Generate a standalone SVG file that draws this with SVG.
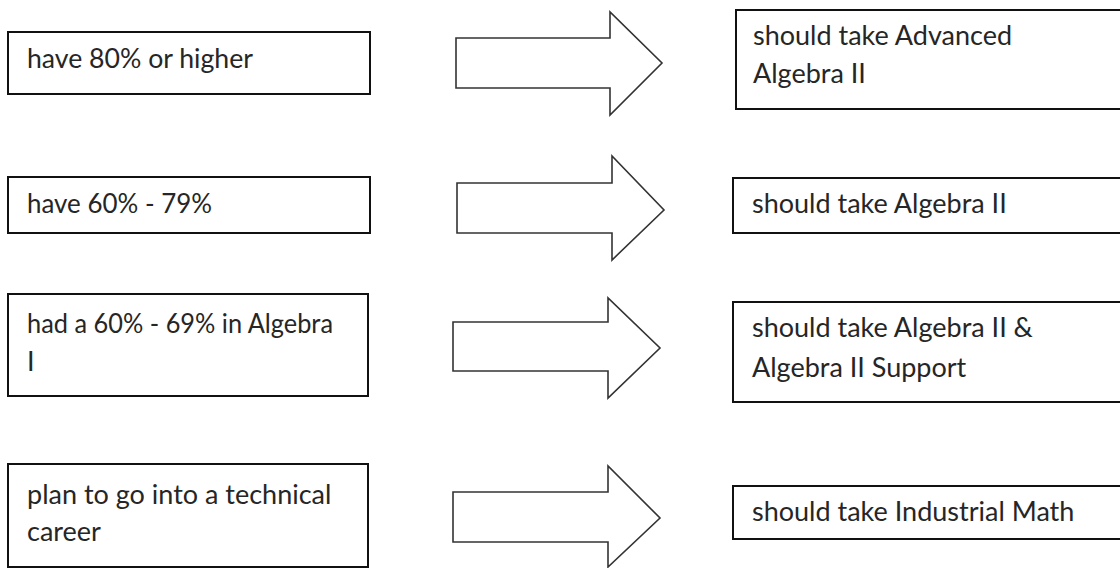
<svg xmlns="http://www.w3.org/2000/svg" width="1120" height="568" viewBox="0 0 1120 568">
<style>
.box{fill:#fff;stroke:#111;stroke-width:2}
.arr{fill:#fff;stroke:#333;stroke-width:1.6;stroke-linejoin:miter}
.t{font-family:Lato,"Liberation Sans",sans-serif;font-size:27px;fill:#262626}
</style>
<rect width="1120" height="568" fill="#fff"/>
<g id="connectors">
<polygon class="arr" points="456,38 610,38 610,12 662,63 610,115 610,88 456,88"/>
<polygon class="arr" points="457,183 612,183 612,156 664,210 612,260 612,233 457,233"/>
<polygon class="arr" points="453,322 608,322 608,298 660,348 608,398 608,371 453,371"/>
<polygon class="arr" points="453,492 608,492 608,466 660,518 608,567 608,542 453,542"/>
</g>
<g id="n1"><rect class="box" x="8" y="32" width="362" height="62"/><text class="t" x="27" y="68" textLength="226" lengthAdjust="spacingAndGlyphs">have 80% or higher</text></g>
<g id="n2"><rect class="box" x="8" y="177" width="362" height="56"/><text class="t" x="27" y="213" textLength="185" lengthAdjust="spacingAndGlyphs">have 60% - 79%</text></g>
<g id="n3"><rect class="box" x="8" y="294" width="360" height="102"/><text class="t" x="27" y="333" textLength="306" lengthAdjust="spacingAndGlyphs">had a 60% - 69% in Algebra</text><text class="t" x="27" y="371">I</text></g>
<g id="n4"><rect class="box" x="8" y="464" width="360" height="103"/><text class="t" x="27" y="504">plan to go into a technical</text><text class="t" x="27" y="541">career</text></g>
<g id="r1"><rect class="box" x="736" y="10" width="400" height="99"/><text class="t" x="753" y="45">should take Advanced</text><text class="t" x="753" y="83">Algebra II</text></g>
<g id="r2"><rect class="box" x="733" y="178" width="400" height="55"/><text class="t" x="752" y="213">should take Algebra II</text></g>
<g id="r3"><rect class="box" x="733" y="302" width="400" height="100"/><text class="t" x="752" y="337">should take Algebra II &amp;</text><text class="t" x="752" y="377">Algebra II Support</text></g>
<g id="r4"><rect class="box" x="733" y="486" width="400" height="53"/><text class="t" x="752" y="521">should take Industrial Math</text></g>
</svg>
